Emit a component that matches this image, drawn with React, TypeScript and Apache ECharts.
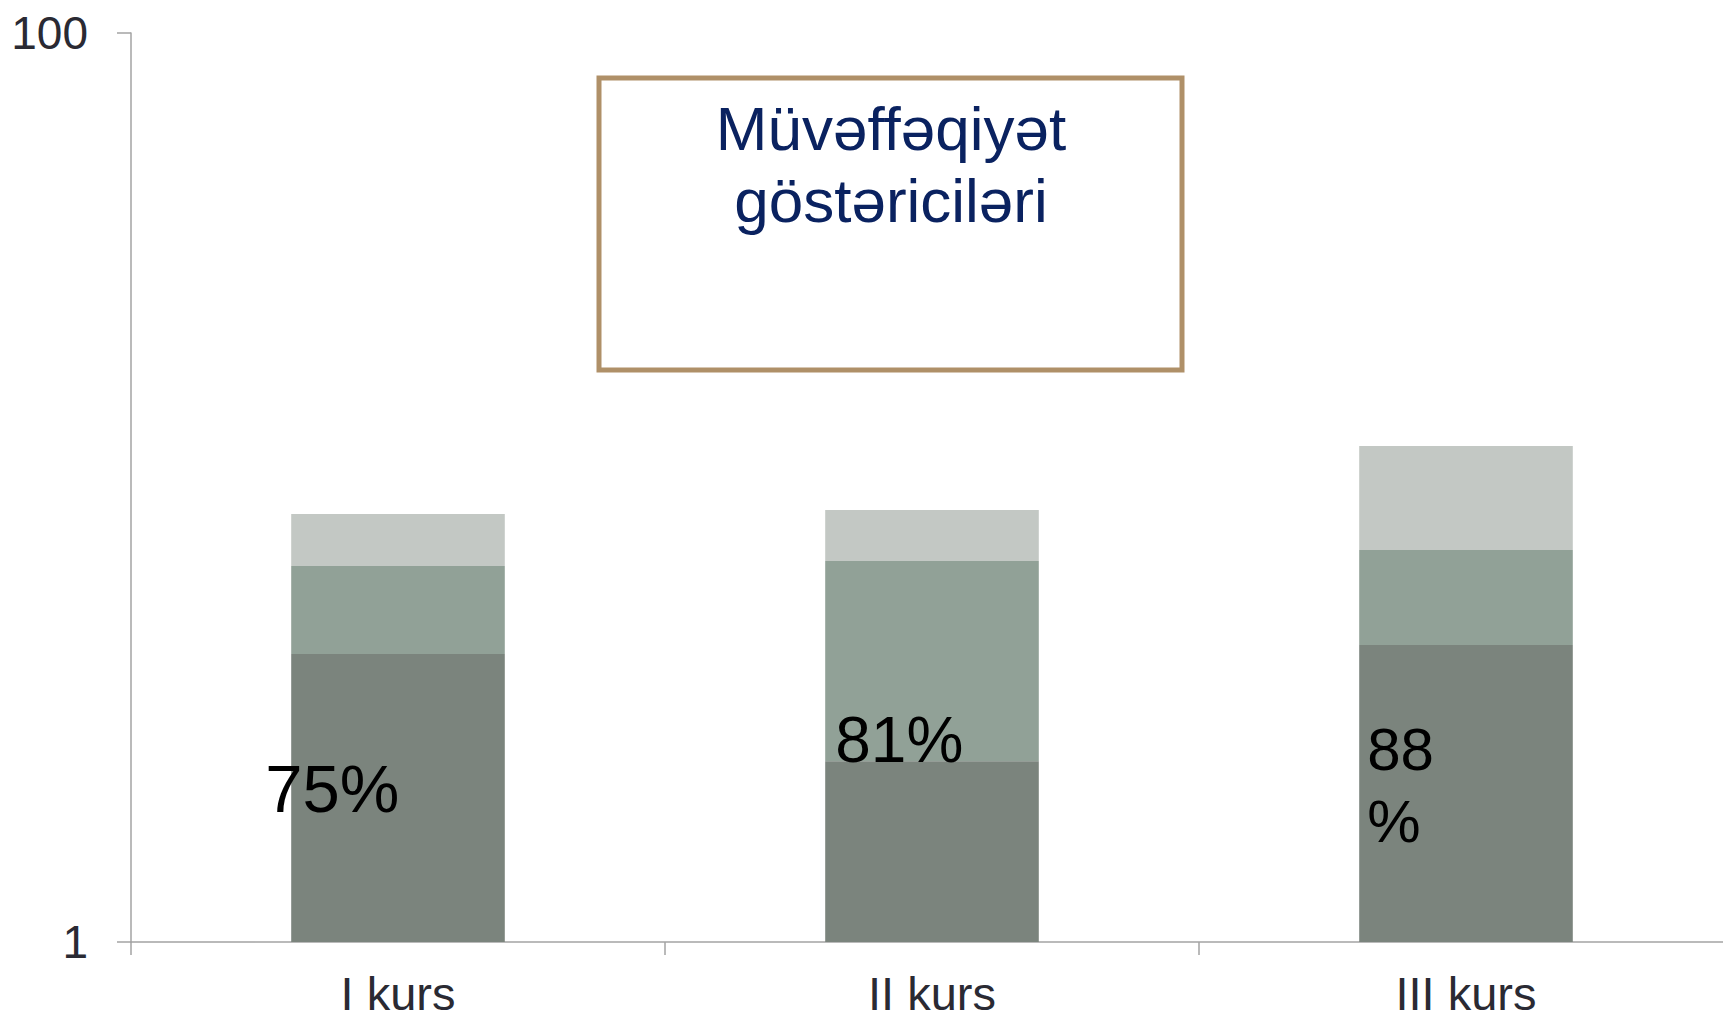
import React, { useEffect, useRef } from "react";
import * as echarts from "echarts";

const categories = ["I kurs", "II kurs", "III kurs"];
const baseValues = [4.3, 2.5, 4.5];
const middleValues = [2.42, 4.39, 2.79];
const topValues = [2.02, 2.03, 5.05];
const passRates = ["75%", "81%", "88\n%"];
const yTicks = [1, 100];
const titleText = "Müvəffəqiyət\ngöstəriciləri";

// label layout (style, not data)
const labelOffsets = [
  [-26, 134],
  [10, -21],
  [8, 140],
];
const labelSizes = [67, 64, 60];

const FONT = "'Liberation Sans', Arial, sans-serif";

export default function App() {
  const ref = useRef<HTMLDivElement>(null);
  useEffect(() => {
    document.body.style.margin = "0";
    document.body.style.overflow = "hidden";
    const chart = echarts.init(ref.current!, undefined, { renderer: "svg" });
    const option: any = {
      animation: false,
      backgroundColor: "#ffffff",
      grid: { left: 131, right: 0, top: 33, bottom: 77, containLabel: false },
      xAxis: {
        type: "category",
        data: categories,
        boundaryGap: true,
        axisLine: { show: true, lineStyle: { color: "#a3a3a3", width: 1.5 } },
        axisTick: { show: true, length: 13, lineStyle: { color: "#a3a3a3", width: 1.5 } },
        axisLabel: {
          fontFamily: FONT,
          fontSize: 47,
          lineHeight: 40,
          color: "#2a2a33",
          margin: 31,
        },
      },
      yAxis: {
        type: "log",
        logBase: 100,
        min: yTicks[0],
        max: yTicks[yTicks.length - 1],
        axisLine: { show: true, lineStyle: { color: "#a3a3a3", width: 1.5 } },
        axisTick: { show: true, length: 14, lineStyle: { color: "#a3a3a3", width: 1.5 } },
        splitLine: { show: false },
        axisLabel: { fontFamily: FONT, fontSize: 46, color: "#2a2a33", margin: 43 },
      },
      series: [
        {
          type: "bar",
          stack: "s",
          barWidth: "40%",
          itemStyle: { color: "#7b847d" },
          data: baseValues.map((v, i) => ({
            value: v,
            label: {
              show: true,
              formatter: passRates[i],
              position: labelOffsets[i],
              align: "left",
              verticalAlign: "middle",
              fontFamily: FONT,
              fontSize: labelSizes[i],
              lineHeight: 72,
              color: "#000000",
            },
          })),
          z: 2,
        },
        {
          type: "bar",
          stack: "s",
          barWidth: "40%",
          itemStyle: { color: "#91a197" },
          data: middleValues,
          z: 1,
        },
        {
          type: "bar",
          stack: "s",
          barWidth: "40%",
          itemStyle: { color: "#c3c8c4" },
          data: topValues,
          z: 1,
        },
      ],
      graphic: [
        {
          type: "rect",
          shape: { x: 599, y: 78, width: 583, height: 292 },
          style: { fill: "#ffffff", stroke: "#af9068", lineWidth: 5 },
          z: 10,
        },
        {
          type: "text",
          x: 891,
          y: 164,
          z: 11,
          style: {
            text: titleText,
            align: "center",
            verticalAlign: "middle",
            fontFamily: FONT,
            fontSize: 62,
            lineHeight: 72,
            fill: "#0a2260",
          },
        },
      ],
    };
    chart.setOption(option);
    return () => chart.dispose();
  }, []);
  return (
    <div
      ref={ref}
      style={{ position: "fixed", left: 0, top: 0, width: 1733, height: 1019 }}
    />
  );
}
